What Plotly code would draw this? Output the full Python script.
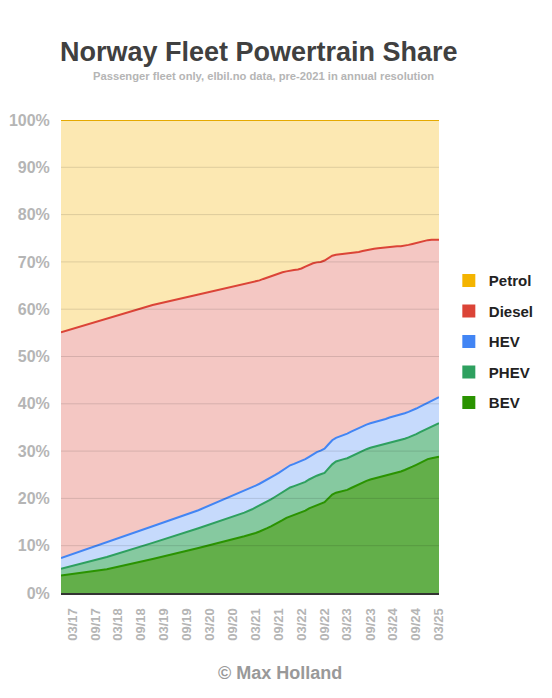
import plotly.graph_objects as go
import pandas as pd

# pre-2021 only year-end points, monthly from Jan 2021 to Mar 2025
annual_dates = ["2016-12-01", "2017-12-01", "2018-12-01", "2019-12-01", "2020-12-01"]
monthly_dates = pd.date_range("2021-01-01", "2025-03-01", freq="MS")
dates = list(pd.to_datetime(annual_dates)) + list(monthly_dates)

# fleet share in %
bev = [3.7, 5.0, 7.2, 9.5, 12.0,
       12.2, 12.4, 12.7, 13.0, 13.3, 13.7, 14.1, 14.5, 15.0, 15.4, 15.9, 16.2,
       16.5, 16.7, 17.0, 17.4, 17.9, 18.2, 18.5, 18.8, 19.2, 20.0, 20.8, 21.2,
       21.4, 21.6, 21.8, 22.2, 22.6, 23.0, 23.4, 23.7, 24.0, 24.2, 24.4, 24.6,
       24.8, 25.0, 25.2, 25.4, 25.7, 26.0, 26.3, 26.7, 27.1, 27.5, 27.9, 28.3,
       28.5, 28.7, 28.8]
phev = [1.4, 2.6, 3.4, 4.2, 5.0,
        5.1, 5.3, 5.4, 5.5, 5.6, 5.6, 5.7, 5.8, 5.8, 5.9, 5.9, 6.1,
        6.1, 6.2, 6.1, 6.1, 6.1, 6.3, 6.3, 6.3, 6.2, 6.3, 6.4, 6.6,
        6.7, 6.7, 6.7, 6.7, 6.7, 6.7, 6.7, 6.7, 6.7, 6.7, 6.7, 6.7,
        6.7, 6.7, 6.7, 6.7, 6.7, 6.6, 6.6, 6.5, 6.5, 6.5, 6.5, 6.5,
        6.7, 6.9, 7.1]
hev = [2.3, 3.1, 3.5, 3.8, 4.6,
       4.6, 4.6, 4.6, 4.6, 4.6, 4.7, 4.6, 4.6, 4.6, 4.6, 4.7, 4.7,
       4.7, 4.7, 4.8, 4.8, 4.8, 4.9, 5.0, 5.0, 5.1, 5.1, 5.1, 5.0,
       5.0, 5.0, 5.2, 5.2, 5.2, 5.2, 5.2, 5.2, 5.2, 5.2, 5.3, 5.3,
       5.3, 5.4, 5.4, 5.4, 5.4, 5.4, 5.4, 5.4, 5.4, 5.4, 5.4, 5.4,
       5.4, 5.4, 5.5]
diesel = [47.7, 47.3, 46.8, 45.6, 43.7,
          43.6, 43.4, 43.2, 43.0, 42.9, 42.7, 42.5, 42.3, 42.1, 41.9, 41.5, 41.2,
          41.0, 40.8, 40.7, 40.7, 40.6, 40.3, 40.1, 39.9, 39.8, 39.4, 39.0, 38.7,
          38.5, 38.3, 38.0, 37.7, 37.4, 37.2, 37.0, 36.9, 36.8, 36.7, 36.5, 36.4,
          36.3, 36.1, 35.9, 35.8, 35.5, 35.4, 35.3, 35.2, 35.0, 34.9, 34.7, 34.4,
          34.1, 33.7, 33.3]
petrol = [44.9, 42.0, 39.1, 36.9, 34.7,
          34.5, 34.3, 34.1, 33.9, 33.6, 33.3, 33.1, 32.8, 32.5, 32.2, 32.0, 31.8,
          31.7, 31.6, 31.4, 31.0, 30.6, 30.3, 30.1, 30.0, 29.7, 29.2, 28.7, 28.5,
          28.4, 28.4, 28.3, 28.2, 28.1, 27.9, 27.7, 27.5, 27.3, 27.2, 27.1, 27.0,
          26.9, 26.8, 26.8, 26.7, 26.7, 26.6, 26.4, 26.2, 26.0, 25.7, 25.5, 25.4,
          25.3, 25.3, 25.3]

tick_labels = ["03/17", "09/17", "03/18", "09/18", "03/19", "09/19", "03/20", "09/20",
               "03/21", "09/21", "03/22", "09/22", "03/23", "09/23", "03/24", "09/24", "03/25"]
y_ticks = [0, 10, 20, 30, 40, 50, 60, 70, 80, 90, 100]
y_tick_labels = ["0%", "10%", "20%", "30%", "40%", "50%", "60%", "70%", "80%", "90%", "100%"]

series = [
    ("BEV", bev, "#2a9300", "#63af4a"),
    ("PHEV", phev, "#2ea05f", "#86c9a0"),
    ("HEV", hev, "#4285f4", "#c6dafc"),
    ("Diesel", diesel, "#db4437", "#f4c7c3"),
    ("Petrol", petrol, "#f4b400", "#fce8b2"),
]

FONT = "Liberation Sans, Arial, sans-serif"

fig = go.Figure()
for name, vals, col, fillcol in series:
    fig.add_trace(go.Scatter(
        x=dates, y=vals, name=name, stackgroup="one", mode="lines",
        line=dict(color=col, width=2), fillcolor=fillcol, showlegend=False,
    ))

# square legend keys, top to bottom Petrol..BEV
for name, vals, col, fillcol in reversed(series):
    fig.add_trace(go.Scatter(
        x=[None], y=[None], name=name, mode="markers", legendgroup=name,
        marker=dict(symbol="square", size=13, color=col),
    ))

# gridlines sit on top of the filled areas in the original
for v in y_ticks[1:]:
    fig.add_shape(type="line", xref="paper", yref="y", x0=0, x1=1, y0=v, y1=v,
                  line=dict(color="rgba(0,0,0,0.12)", width=1), layer="above")

fig.update_xaxes(
    type="date", range=[dates[0], dates[-1]], automargin=False,
    tickvals=pd.to_datetime(tick_labels, format="%m/%y"), ticktext=tick_labels,
    tickangle=-90, ticks="outside", ticklen=8, tickcolor="rgba(0,0,0,0)",
    tickfont=dict(family=FONT, size=13, color="#b5b5b5", weight="bold"),
    showgrid=False, showline=True, linecolor="#333333", linewidth=2,
    zeroline=False,
)
fig.update_yaxes(
    range=[0, 100], tickvals=y_ticks, ticktext=y_tick_labels, automargin=False,
    ticks="outside", ticklen=7, tickcolor="rgba(0,0,0,0)",
    tickfont=dict(family=FONT, size=16, color="#b5b5b5", weight="bold"),
    showgrid=False, zeroline=False,
)

# page body adds an 8px margin, so the figure is 8px smaller than the window
fig.update_layout(
    width=544, height=690, autosize=False,
    margin=dict(l=53, r=113, t=112, b=105),
    paper_bgcolor="white", plot_bgcolor="white",
    font=dict(family=FONT),
    legend=dict(
        x=1.026, y=0.531, xanchor="left", yanchor="middle",
        traceorder="grouped", tracegroupgap=8,
        font=dict(family=FONT, size=15, color="#222222", weight="bold"),
    ),
    annotations=[
        dict(text="Norway Fleet Powertrain Share", xref="paper", yref="paper",
             x=0.524, y=1.144, xanchor="center", yanchor="middle", showarrow=False,
             font=dict(family=FONT, size=27, color="#404040", weight="bold")),
        dict(text="Passenger fleet only, elbil.no data, pre-2021 in annual resolution",
             xref="paper", yref="paper", x=0.537, y=1.092, xanchor="center",
             yanchor="middle", showarrow=False,
             font=dict(family=FONT, size=11.2, color="#b5b5b5", weight="bold")),
        dict(text="© Max Holland", xref="paper", yref="paper", x=0.579, y=-0.169,
             xanchor="center", yanchor="middle", showarrow=False,
             font=dict(family=FONT, size=18, color="#999999", weight="bold")),
    ],
)

fig.write_html("out.html")
